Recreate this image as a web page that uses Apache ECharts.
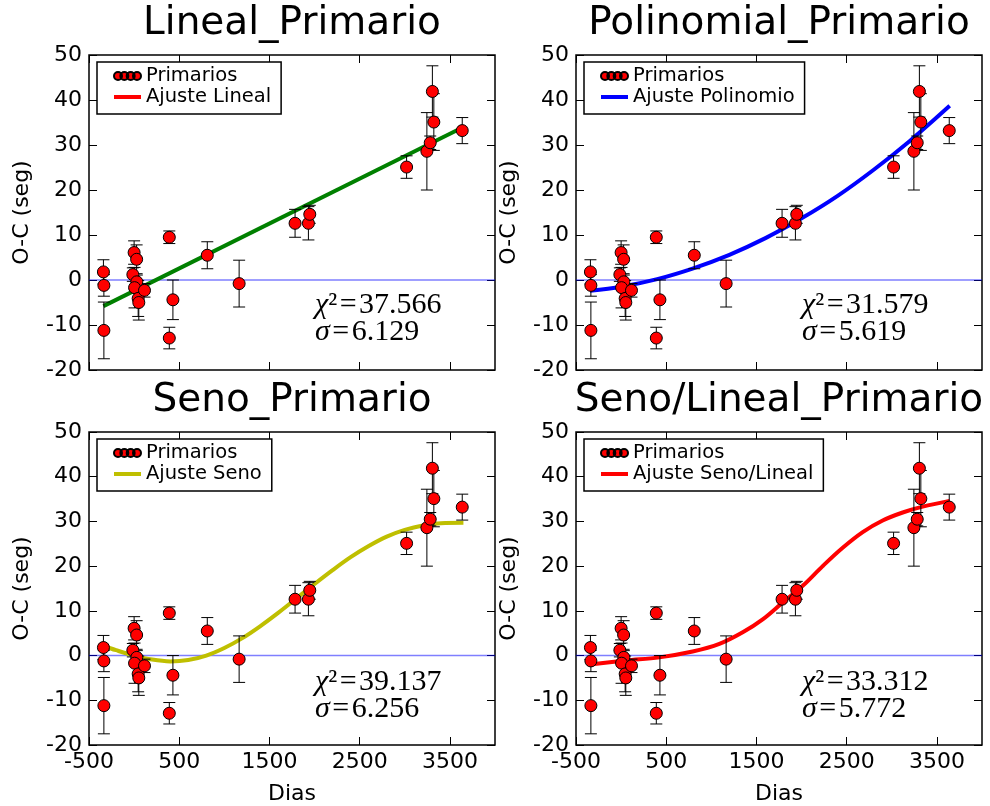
<!DOCTYPE html>
<html>
<head>
<meta charset="utf-8">
<script src="https://cdn.jsdelivr.net/npm/echarts@6/dist/echarts.min.js"></script>
<style>
html, body { margin: 0; padding: 0; background: #fff; }
#chart { width: 990px; height: 806px; }
</style>
</head>
<body>
<div id="chart"></div>
<script>
// datos O-C de los minimos primarios
var dias = [-340, -335, -335, -14, 0, 28, 30, 5, 45, 52, 115, 390, 390, 430, 811, 1164, 1784, 1932, 1947, 3020, 3245, 3282, 3306, 3322, 3637];
var oc = [1.8, -1.2, -11.2, 1.2, 6.1, 4.6, -0.4, -1.7, -4.1, -5.0, -2.3, 9.5, -12.9, -4.4, 5.5, -0.8, 12.6, 12.6, 14.6, 25.1, 28.6, 30.5, 41.9, 35.1, 33.2];
var errores = [2.7, 2.4, 6.3, 1.5, 2.6, 3.2, 1.5, 4.5, 4.0, 3.9, 1.5, 1.4, 2.4, 4.4, 3.0, 5.2, 3.1, 3.7, 2.0, 2.5, 8.6, 1.5, 5.7, 6.3, 2.9];

// curvas de ajuste
var linealX = [-340, 3640];
var linealY = [-5.8, 33.9];
var poliX = [-345, 0, 400, 800, 1200, 1600, 2000, 2400, 2800, 3200, 3642];
var poliY = [-2.4, -1.5, 0.2, 2.6, 5.6, 9.3, 13.7, 18.7, 24.5, 30.9, 38.7];
var senoX = [-349, -200, 0, 200, 400, 600, 800, 1000, 1200, 1400, 1600, 1800, 2000, 2200, 2400, 2600, 2800, 3000, 3200, 3400, 3650];
var senoY = [2.2, 1.2, 0.0, -0.9, -1.3, -1.0, 0.0, 1.7, 3.9, 6.6, 9.6, 12.8, 16.0, 19.1, 22.0, 24.5, 26.6, 28.1, 29.1, 29.6, 29.7];
var senoLinX = [-345, 54, 424, 793, 1089, 1348, 1569, 1792, 2013, 2234, 2456, 2678, 2899, 3121, 3343, 3640];
var senoLinY = [-2.0, -1.1, -0.4, 0.9, 2.6, 5.2, 8.1, 11.9, 15.6, 20.0, 24.1, 27.6, 30.2, 32.0, 33.3, 34.6];

var titulos = ['Lineal_Primario', 'Polinomial_Primario', 'Seno_Primario', 'Seno/Lineal_Primario'];
var ajustes = ['Ajuste Lineal', 'Ajuste Polinomio', 'Ajuste Seno', 'Ajuste Seno/Lineal'];
var chi2 = ['37.566', '31.579', '39.137', '33.312'];
var sigma = ['6.129', '5.619', '6.256', '5.772'];
var xTicks = [-500, 500, 1500, 2500, 3500];

var curvas = [[linealX, linealY], [poliX, poliY], [senoX, senoY], [senoLinX, senoLinY]];
var colores = ['#008000', '#0000ff', '#bfbf00', '#ff0000'];
var coloresLeyenda = ['#ff0000', '#0000ff', '#bfbf00', '#ff0000'];

var grids = [
  { left: 89, top: 55, width: 406, height: 315 },
  { left: 576, top: 55, width: 406, height: 315 },
  { left: 89, top: 432, width: 406, height: 314 },
  { left: 576, top: 432, width: 406, height: 314 }
];

var fuente = 'DejaVu Sans';
var iconoPuntos = 'path://M0,4a4,4 0 1,0 8,0a4,4 0 1,0 -8,0ZM6.33,4a4,4 0 1,0 8,0a4,4 0 1,0 -8,0ZM12.67,4a4,4 0 1,0 8,0a4,4 0 1,0 -8,0ZM19,4a4,4 0 1,0 8,0a4,4 0 1,0 -8,0Z';
var iconoLinea = 'path://M0,0L27,0L27,4L0,4Z';

function zip(a, b) {
  var out = [];
  for (var i = 0; i < a.length; i++) out.push([a[i], b[i]]);
  return out;
}

function renderError(params, api) {
  var x = api.value(0);
  var p1 = api.coord([x, api.value(1)]);
  var p2 = api.coord([x, api.value(2)]);
  var w = 6;
  var st = { stroke: '#000', lineWidth: 1 };
  return {
    type: 'group',
    children: [
      { type: 'line', shape: { x1: p1[0], y1: p1[1], x2: p2[0], y2: p2[1] }, style: st },
      { type: 'line', shape: { x1: p1[0] - w, y1: p1[1], x2: p1[0] + w, y2: p1[1] }, style: st },
      { type: 'line', shape: { x1: p2[0] - w, y1: p2[1], x2: p2[0] + w, y2: p2[1] }, style: st }
    ]
  };
}

var puntos = zip(dias, oc);
var barras = [];
for (var k = 0; k < dias.length; k++) {
  barras.push([dias[k], oc[k] - errores[k], oc[k] + errores[k]]);
}

var option = {
  animation: false,
  backgroundColor: '#fff',
  grid: [], xAxis: [], yAxis: [], series: [], legend: [], graphic: []
};

var hs = '\u200A';

for (var i = 0; i < 4; i++) {
  var g = grids[i];
  var abajo = i >= 2;
  option.grid.push({ left: g.left, top: g.top, width: g.width, height: g.height, show: true, borderColor: '#000', borderWidth: 1.5, backgroundColor: '#fff' });

  var lineaEje = { show: false, onZero: false };
  var tick = { show: true, inside: true, length: 8, lineStyle: { color: '#000', width: 1 } };
  var fmt = function (v) { return String(v); };

  option.xAxis.push({
    gridIndex: i, type: 'value', min: -500, max: 4000, position: 'bottom',
    axisLine: lineaEje,
    axisTick: Object.assign({ customValues: xTicks }, tick),
    axisLabel: { show: abajo, customValues: xTicks, formatter: fmt, color: '#000', fontSize: 22, fontFamily: fuente, margin: 6 },
    splitLine: { show: false },
    name: abajo ? 'Dias' : '', nameLocation: 'middle', nameGap: 38,
    nameTextStyle: { color: '#000', fontSize: 22, fontFamily: fuente }
  });
  option.xAxis.push({
    gridIndex: i, type: 'value', min: -500, max: 4000, position: 'top',
    axisLine: lineaEje,
    axisTick: Object.assign({ customValues: xTicks }, tick),
    axisLabel: { show: false }, splitLine: { show: false }
  });
  option.yAxis.push({
    gridIndex: i, type: 'value', min: -20, max: 50, interval: 10, position: 'left',
    axisLine: lineaEje, axisTick: tick,
    axisLabel: { color: '#000', fontSize: 22, fontFamily: fuente, margin: 7, formatter: fmt },
    splitLine: { show: false },
    name: 'O-C (seg)', nameLocation: 'middle', nameGap: 56,
    nameTextStyle: { color: '#000', fontSize: 22, fontFamily: fuente }
  });
  option.yAxis.push({
    gridIndex: i, type: 'value', min: -20, max: 50, interval: 10, position: 'right',
    axisLine: lineaEje, axisTick: tick,
    axisLabel: { show: false }, splitLine: { show: false }
  });

  var xi = i * 2, yi = i * 2;
  // linea horizontal en cero
  option.series.push({
    type: 'line', xAxisIndex: xi, yAxisIndex: yi, data: [[-500, 0], [4000, 0]],
    symbol: 'none', silent: true, z: 1,
    lineStyle: { color: 'rgba(0,0,255,0.5)', width: 1.5 }
  });
  // ajuste
  option.series.push({
    type: 'line', name: ajustes[i], xAxisIndex: xi, yAxisIndex: yi,
    data: zip(curvas[i][0], curvas[i][1]), smooth: i === 0 ? false : 0.35,
    symbol: 'none', z: 2, color: colores[i],
    lineStyle: { color: colores[i], width: 4 }
  });
  // barras de error
  option.series.push({
    type: 'custom', xAxisIndex: xi, yAxisIndex: yi, data: barras,
    encode: { x: 0, y: [1, 2] }, renderItem: renderError, z: 3, silent: true
  });
  // puntos
  option.series.push({
    type: 'scatter', name: 'Primarios', xAxisIndex: xi, yAxisIndex: yi, data: puntos,
    symbolSize: 12, z: 4,
    itemStyle: { color: '#ff0000', borderColor: '#000', borderWidth: 1, opacity: 1 }
  });

  option.legend.push({
    orient: 'vertical', left: g.left + 8, top: g.top + 7,
    itemWidth: 27, itemHeight: 8, itemGap: 1,
    padding: [4, 10, 7, 16],
    backgroundColor: '#fff', borderColor: '#000', borderWidth: 1.5, borderRadius: 0,
    selectedMode: false, symbolKeepAspect: true,
    textStyle: { fontSize: 19.5, fontFamily: fuente, color: '#000', lineHeight: 18 },
    data: [
      { name: 'Primarios', icon: iconoPuntos },
      { name: ajustes[i], icon: iconoLinea, itemStyle: { color: coloresLeyenda[i], borderWidth: 0 } }
    ]
  });

  option.graphic.push({
    type: 'text', x: g.left + g.width / 2, y: g.top - 51,
    style: { text: titulos[i], fontSize: 39, fontFamily: fuente, fill: '#000', align: 'center', textAlign: 'center', verticalAlign: 'top', textVerticalAlign: 'top' }
  });
  option.graphic.push({
    type: 'text', x: g.left + 226, y: g.top + 236.6,
    style: {
      text: '{g|χ}{n|²' + hs + '=' + hs + chi2[i] + '}\n{g|σ}{n|' + hs + '=' + hs + sigma[i] + '}',
      align: 'left', textAlign: 'left', verticalAlign: 'top', textVerticalAlign: 'top',
      rich: {
        g: { fontSize: 30, fontStyle: 'italic', fontFamily: 'Liberation Serif', fill: '#000', color: '#000', lineHeight: 26.7 },
        n: { fontSize: 30, fontFamily: 'Liberation Serif', fill: '#000', color: '#000', lineHeight: 26.7 }
      }
    }
  });
}

var chart = echarts.init(document.getElementById('chart'));
chart.setOption(option);
</script>
</body>
</html>
